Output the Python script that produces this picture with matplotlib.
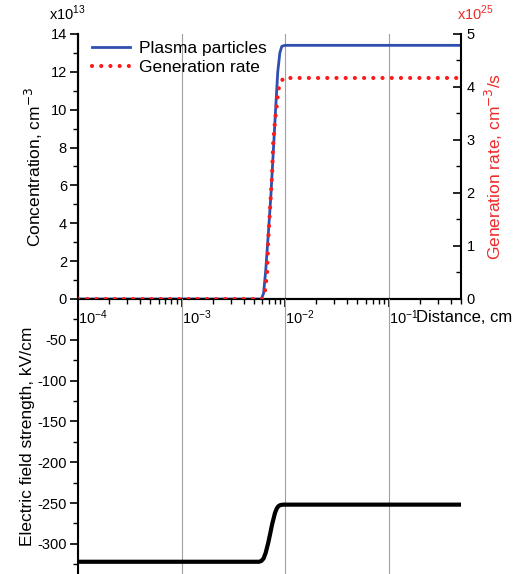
import matplotlib
matplotlib.use('Agg')
import matplotlib.pyplot as plt
from matplotlib.ticker import MultipleLocator, FixedLocator

plt.rcParams['font.family'] = ['Liberation Sans', 'DejaVu Sans']
plt.rcParams['axes.unicode_minus'] = False

# plasma particle concentration (x1e13 cm^-3) vs distance (cm)
plasma_x = [1e-4, 5.9e-3, 6.2e-3, 6.5e-3, 6.9e-3, 7.3e-3, 7.7e-3, 8.1e-3,
            8.5e-3, 8.9e-3, 9.3e-3, 1.0e-2, 0.5]
plasma_y = [0, 0, 0.3, 1.5, 3.5, 5.5, 7.8, 10.0, 12.0, 13.0, 13.35, 13.4, 13.4]

# generation rate (x1e25 cm^-3/s)
gen_x = [1e-4, 6.0e-3, 6.4e-3, 6.71e-3, 6.87e-3, 7.18e-3, 7.5e-3, 7.67e-3,
         8.01e-3, 8.38e-3, 8.57e-3, 8.95e-3, 9.6e-3, 0.5]
gen_y = [0, 0, 0.15, 0.49, 1.1, 1.74, 2.38, 2.94, 3.38, 3.7, 3.94, 4.04,
         4.17, 4.17]

# electric field strength (kV/cm)
field_x = [1e-4, 5.6e-3, 5.9e-3, 6.2e-3, 6.5e-3, 6.87e-3, 7.2e-3, 7.5e-3,
           8.0e-3, 8.3e-3, 8.6e-3, 9.0e-3, 9.6e-3, 0.5]
field_y = [-322, -322, -321, -318, -311, -299, -287, -276, -262, -257,
           -254, -252.5, -252, -252]

conc_ticks = [0, 2, 4, 6, 8, 10, 12, 14]
gen_ticks = [0, 1, 2, 3, 4, 5]
field_ticks = [-50, -100, -150, -200, -250, -300]
x_ticks = [1e-4, 1e-3, 1e-2, 1e-1]

fig = plt.figure(figsize=(5.22, 5.74), dpi=100)
ax = fig.add_axes([0.1494, 0.4791, 0.7337, 0.4617])
ax2 = ax.twinx()
axb = fig.add_axes([0.1494, 0.0, 0.7337, 0.4791])

grid_kw = dict(color='#a0a0a0', lw=0.8)
red = '#ff1a1a'
dots = (0, (0.01, 2.2))

# --- top panel
ax.plot(plasma_x, plasma_y, color='#2f4fb0', lw=2.0, label='Plasma particles', zorder=3)
ax2.plot(gen_x, gen_y, color=red, lw=3.0, linestyle=dots,
         dash_capstyle='round', zorder=4)
ax.plot([], [], color=red, lw=3.0, linestyle=dots,
        dash_capstyle='round', label='Generation rate')

ax.set_xscale('log')
ax.set_xlim(1e-4, 0.5)
ax.set_ylim(0, 14)
ax2.set_ylim(0, 5)
ax.set_xticks(x_ticks)
ax.set_yticks(conc_ticks)
ax.yaxis.set_minor_locator(MultipleLocator(1))
ax2.set_yticks(gen_ticks)
ax2.yaxis.set_minor_locator(MultipleLocator(0.5))
ax.grid(True, axis='x', which='major', **grid_kw)

for a in (ax, ax2):
    a.spines['top'].set_visible(False)
    for s in a.spines.values():
        s.set_linewidth(1.5)
ax.spines['right'].set_visible(False)

ax.tick_params(axis='x', which='major', direction='out', length=6, width=1.2,
               labelsize=10.5, pad=1)
ax.tick_params(axis='x', which='minor', direction='out', length=3.5, width=1.0)
ax.tick_params(axis='y', which='major', direction='out', length=6, width=1.2,
               labelsize=10.5, pad=2)
ax.tick_params(axis='y', which='minor', direction='out', length=3.5, width=1.0)
ax2.tick_params(axis='y', which='major', direction='in', length=6, width=1.2,
                labelsize=10.5, pad=4)
ax2.tick_params(axis='y', which='minor', direction='in', length=3.5, width=1.0)
for lab in ax.get_xticklabels():
    lab.set_ha('left')

ax.set_ylabel('Concentration, cm$^{-3}$', fontsize=12.5, labelpad=4)
ax2.set_ylabel('Generation rate, cm$^{-3}$/s', fontsize=12.5, color='#ee2a2a',
               labelpad=6)
ax.text(-0.075, 1.04, r'x10$^{\mathdefault{13}}$', transform=ax.transAxes,
        fontsize=10.5, ha='left', va='bottom')
ax2.text(0.99, 1.04, r'x10$^{\mathdefault{25}}$', transform=ax2.transAxes,
         fontsize=10.5, ha='left', va='bottom', color='#ee2a2a')
ax.text(0.882, -0.04, 'Distance, cm', transform=ax.transAxes, fontsize=12,
        ha='left', va='top')

ax.legend(loc='upper left', bbox_to_anchor=(0.005, 1.02), frameon=False,
          fontsize=12.5, handlelength=2.2, handletextpad=0.5,
          labelspacing=0.2, borderaxespad=0.3)

# --- bottom panel
axb.plot(field_x, field_y, color='black', lw=3.0, solid_joinstyle='round')
axb.set_xscale('log')
axb.set_xlim(1e-4, 0.5)
axb.set_xticks(x_ticks)
axb.set_ylim(-337, 0)
axb.set_yticks(field_ticks)
axb.yaxis.set_minor_locator(FixedLocator([-25, -75, -125, -175, -225, -275, -325]))
axb.grid(True, axis='x', which='major', **grid_kw)
axb.tick_params(axis='x', which='both', length=0, labelbottom=False)
axb.tick_params(axis='y', which='major', direction='out', length=6, width=1.2,
                labelsize=10.5, pad=2)
axb.tick_params(axis='y', which='minor', direction='out', length=3.5, width=1.0)
for side in ('top', 'right', 'bottom'):
    axb.spines[side].set_visible(False)
axb.spines['left'].set_linewidth(1.5)
axb.set_ylabel('Electric field strength, kV/cm', fontsize=12.5, labelpad=2)
axb.patch.set_alpha(0)

fig.savefig('out.png', dpi=100)
